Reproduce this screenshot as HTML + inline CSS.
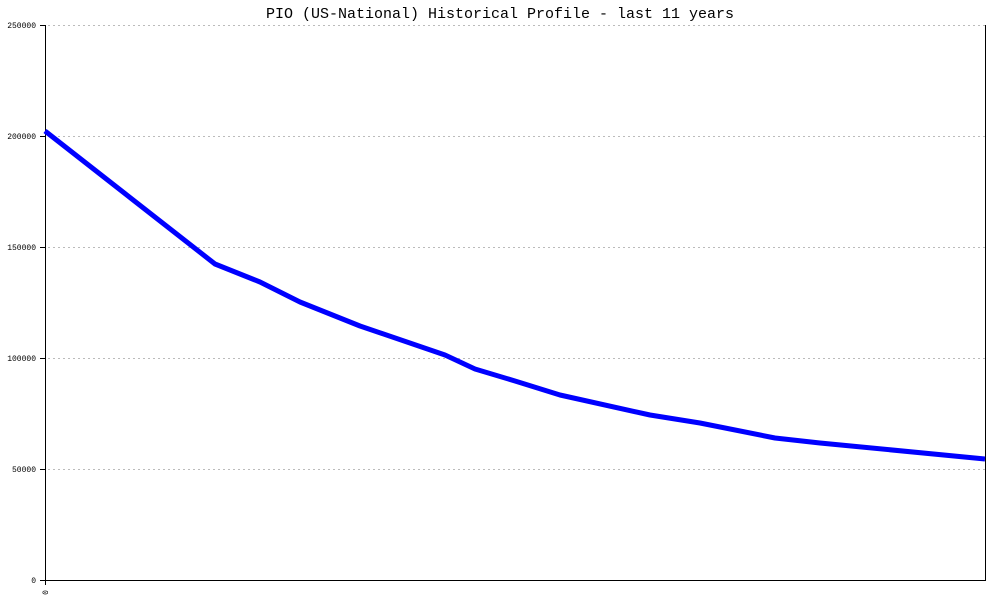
<!DOCTYPE html>
<html><head><style>body{margin:0;background:#fff}svg{display:block}</style></head><body>
<svg width="1000" height="600" xmlns="http://www.w3.org/2000/svg" font-family="Liberation Mono, monospace">
<text x="500" y="18" text-anchor="middle" font-size="15">PIO (US-National) Historical Profile - last 11 years</text>
<g stroke="#bbb" stroke-dasharray="2,3" stroke-width="1">
<line x1="48" y1="25.5" x2="985" y2="25.5"/>
<line x1="48" y1="136.5" x2="985" y2="136.5"/>
<line x1="48" y1="247.5" x2="985" y2="247.5"/>
<line x1="48" y1="358.5" x2="985" y2="358.5"/>
<line x1="48" y1="469.5" x2="985" y2="469.5"/>
</g>
<g stroke="#000" stroke-width="1">
<line x1="45.5" y1="25" x2="45.5" y2="581"/>
<line x1="45" y1="580.5" x2="986" y2="580.5"/>
<line x1="985.5" y1="25" x2="985.5" y2="581"/>
<line x1="40" y1="25.5" x2="45" y2="25.5"/>
<line x1="40" y1="136.5" x2="45" y2="136.5"/>
<line x1="40" y1="247.5" x2="45" y2="247.5"/>
<line x1="40" y1="358.5" x2="45" y2="358.5"/>
<line x1="40" y1="469.5" x2="45" y2="469.5"/>
<line x1="40" y1="580.5" x2="45" y2="580.5"/>
<line x1="45.5" y1="580" x2="45.5" y2="585"/>
</g>
<g font-size="8" text-anchor="end">
<text x="36" y="28">250000</text>
<text x="36" y="139">200000</text>
<text x="36" y="250">150000</text>
<text x="36" y="361">100000</text>
<text x="36" y="472">50000</text>
<text x="36" y="583">0</text>
<text transform="translate(48,590) rotate(-90)" text-anchor="end">0</text>
</g>
<polyline fill="none" stroke="#00f" stroke-width="5" stroke-linejoin="round" points="45,131 215,264 260,282 300,302 360,326 445,355 475,369 515,381 560,395 650,415 700,423 775,438 820,443 985,459"/>
</svg>
</body></html>
